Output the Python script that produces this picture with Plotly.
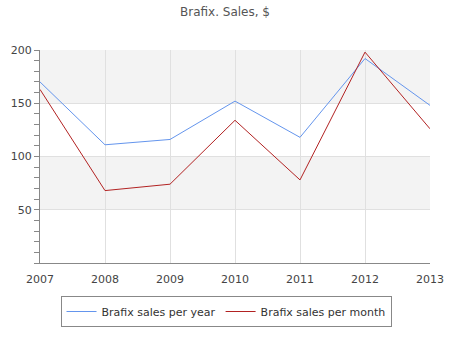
import plotly.graph_objects as go

years = [2007, 2008, 2009, 2010, 2011, 2012, 2013]
sales_per_year = [170, 111, 116, 152, 118, 192, 148]
sales_per_month = [163, 68, 74, 134, 78, 198, 126]
y_ticks = [50, 100, 150, 200]
bands = [(50, 100), (150, 200)]

fig = go.Figure()
fig.add_trace(go.Scatter(x=years, y=sales_per_year, mode="lines",
                         name="Brafix sales per year",
                         line=dict(color="#6495ed", width=1)))
fig.add_trace(go.Scatter(x=years, y=sales_per_month, mode="lines",
                         name="Brafix sales per month",
                         line=dict(color="#b22222", width=1)))

for lo, hi in bands:
    fig.add_shape(type="rect", xref="paper", yref="y", x0=0, x1=1, y0=lo, y1=hi,
                  fillcolor="#f3f3f3", line_width=0, layer="below")

fig.update_layout(
    width=450, height=350,
    margin=dict(l=40, r=20, t=50, b=87),
    paper_bgcolor="white", plot_bgcolor="white",
    font=dict(family="DejaVu Sans", size=11, color="#444"),
    title=dict(text="Brafix. Sales, $", x=0.5, xanchor="center", y=0.965,
               yanchor="middle", font=dict(size=12, color="#555")),
    showlegend=True,
    legend=dict(orientation="h", x=0.477, xanchor="center", y=-0.155, yanchor="top",
                itemwidth=30, bordercolor="#888", borderwidth=1,
                font=dict(size=11, color="#333")),
)
fig.update_xaxes(range=[2007, 2013], tickvals=years, showgrid=True,
                 gridcolor="#e0e0e0", gridwidth=1, showline=True, linecolor="#888",
                 linewidth=1, ticks="", ticklabelstandoff=6, zeroline=False,
                 automargin=False)
fig.update_yaxes(range=[0, 200], tickvals=[0] + y_ticks,
                 ticktext=[""] + [str(v) for v in y_ticks],
                 showgrid=True, gridcolor="#e0e0e0", gridwidth=1,
                 showline=True, linecolor="#888", linewidth=1,
                 ticks="outside", ticklen=5, tickcolor="#888", zeroline=False,
                 automargin=False,
                 minor=dict(ticks="outside", dtick=10, ticklen=5, tickcolor="#888",
                            showgrid=False))

fig.write_html("out.html")
